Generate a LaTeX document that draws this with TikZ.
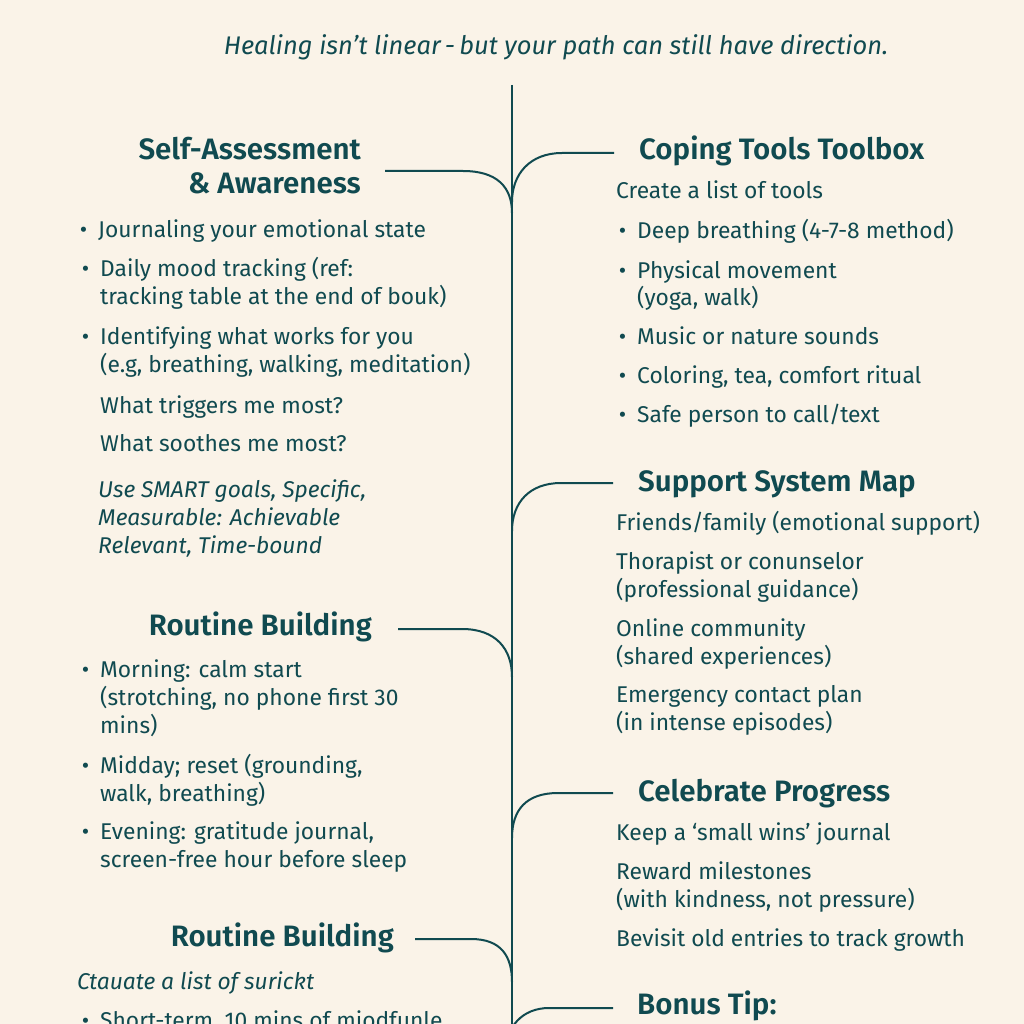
\documentclass[tikz,border=0pt]{standalone}
\usepackage{fontspec}
\setmainfont{Fira Sans}
\newfontfamily\headfont{Fira Sans}[UprightFont={* SemiBold}]
\definecolor{paper}{HTML}{FAF3E8}
\definecolor{ink}{HTML}{104A50}
\newcommand\bul{\makebox[0pt][r]{\textbullet\hspace{11pt}}}
\tikzset{
  body/.style={anchor=base west, inner sep=0pt, text=ink, font=\fontsize{22.8}{26}\selectfont},
  note/.style={body, font=\itshape\fontsize{22.8}{26}\selectfont},
  headl/.style={anchor=base east, inner sep=0pt, text=ink, font=\headfont\fontsize{29.5}{33}\selectfont},
  headr/.style={headl, anchor=base west},
  branch/.style={draw=ink, line width=2pt}
}
\begin{document}
\begin{tikzpicture}[x=1pt, y=-1pt]
\useasboundingbox (0,0) rectangle (1024,1024);
\fill[paper] (0,0) rectangle (1024,1024);
\clip (0,0) rectangle (1024,1024);

\node[anchor=base, inner sep=0pt, text=ink, font=\itshape\fontsize{25.5}{29}\selectfont] (title) at (556,55) {Healing isn’t linear\,-\,but your path can still have direction.};

% trunk
\coordinate (top) at (512,85);
\coordinate (bot) at (512,1030);
\draw[branch] (top) -- (bot);

% branch ends on the trunk
\coordinate (t1) at (512,213);
\coordinate (t2) at (512,202);
\coordinate (t3) at (512,531);
\coordinate (t4) at (512,677);
\coordinate (t5) at (512,838);
\coordinate (t6) at (512,982);
\coordinate (t7) at (505,1056);

% left: self-assessment
\node[headl] (sa) at (361,160) {Self-Assessment};
\node[headl] (saw) at (361,194) {\& Awareness};
\coordinate (b1) at (385,171);
\draw[branch] (b1) -- ++(78,0) .. controls +(34,0) and +(0,-26) .. (t1);
\node[body] (sa1) at (98,237) {\bul Journaling your emotional state};
\node[body] (sa2) at (100,276) {\bul Daily mood tracking (ref:};
\node[body] (sa2b) at (100,304) {tracking table at the end of bouk)};
\node[body] (sa3) at (100,344) {\bul Identifying what works for you};
\node[body] (sa3b) at (100,372) {(e.g, breathing, walking, meditation)};
\node[body] (sa4) at (100,413) {What triggers me most?};
\node[body] (sa5) at (100,451) {What soothes me most?};
\node[note] (sa6) at (98,497) {Use SMART goals, Specific,};
\node[note] (sa6b) at (98,525) {Measurable: Achievable};
\node[note] (sa6c) at (98,553) {Relevant, Time-bound};

% right: coping tools
\node[headr] (ct) at (639,160) {Coping Tools Toolbox};
\coordinate (b2) at (614,153);
\draw[branch] (b2) -- ++(-52,0) .. controls +(-32,0) and +(0,-28) .. (t2);
\node[body] (ct0) at (616,199) {Create a list of tools};
\node[body] (ct1) at (637,239) {\bul Deep breathing (4-7-8 method)};
\node[body] (ct2) at (637,278) {\bul Physical movement};
\node[body] (ct2b) at (637,305) {(yoga, walk)};
\node[body] (ct3) at (637,344) {\bul Music or nature sounds};
\node[body] (ct4) at (637,383) {\bul Coloring, tea, comfort ritual};
\node[body] (ct5) at (637,422) {\bul Safe person to call/text};

% right: support system
\node[headr] (ss) at (638,491) {Support System Map};
\coordinate (b3) at (613,483);
\draw[branch] (b3) -- ++(-52,0) .. controls +(-32,0) and +(0,-28) .. (t3);
\node[body] (ss1) at (616,530) {Friends/family (emotional support)};
\node[body] (ss2) at (616,569) {Thorapist or conunselor};
\node[body] (ss2b) at (616,597) {(professional guidance)};
\node[body] (ss3) at (616,636) {Online community};
\node[body] (ss3b) at (616,664) {(shared experiences)};
\node[body] (ss4) at (616,702) {Emergency contact plan};
\node[body] (ss4b) at (616,730) {(in intense episodes)};

% left: routine building
\node[headl] (rb) at (372,635) {Routine Building};
\coordinate (b4) at (398,629);
\draw[branch] (b4) -- ++(64,0) .. controls +(34,0) and +(0,-28) .. (t4);
\node[body] (rb1) at (100,677) {\bul Morning: calm start};
\node[body] (rb1b) at (100,705) {(strotching, no phone first 30};
\node[body] (rb1c) at (100,733) {mins)};
\node[body] (rb2) at (100,773) {\bul Midday; reset (grounding,};
\node[body] (rb2b) at (100,801) {walk, breathing)};
\node[body] (rb3) at (100,839) {\bul Evening: gratitude journal,};
\node[body] (rb3b) at (100,867) {screen-free hour before sleep};

% right: celebrate
\node[headr] (cp) at (638,801) {Celebrate Progress};
\coordinate (b5) at (613,793);
\draw[branch] (b5) -- ++(-55,0) .. controls +(-32,0) and +(0,-28) .. (t5);
\node[body] (cp1) at (616,840) {Keep a ‘small wins’ journal};
\node[body] (cp2) at (616,879) {Reward milestones};
\node[body] (cp2b) at (616,907) {(with kindness, not pressure)};
\node[body] (cp3) at (616,946) {Bevisit old entries to track growth};

% left: routine building again
\node[headl] (rc) at (394,946) {Routine Building};
\coordinate (b6) at (415,939);
\draw[branch] (b6) -- ++(56,0) .. controls +(30,0) and +(0,-26) .. (t6);
\node[note] (rc1) at (77,989) {Ctauate a list of surickt};
\node[body] (rc2) at (100,1028) {\bul Short-term, 10 mins of miodfunle..};

% right: bonus
\node[headr] (bt) at (637,1014) {Bonus Tip:};
\coordinate (b7) at (613,1008);
\draw[branch] (b7) -- ++(-64,0) .. controls +(-26,0) and +(0,-30) .. (t7);
\end{tikzpicture}
\end{document}
